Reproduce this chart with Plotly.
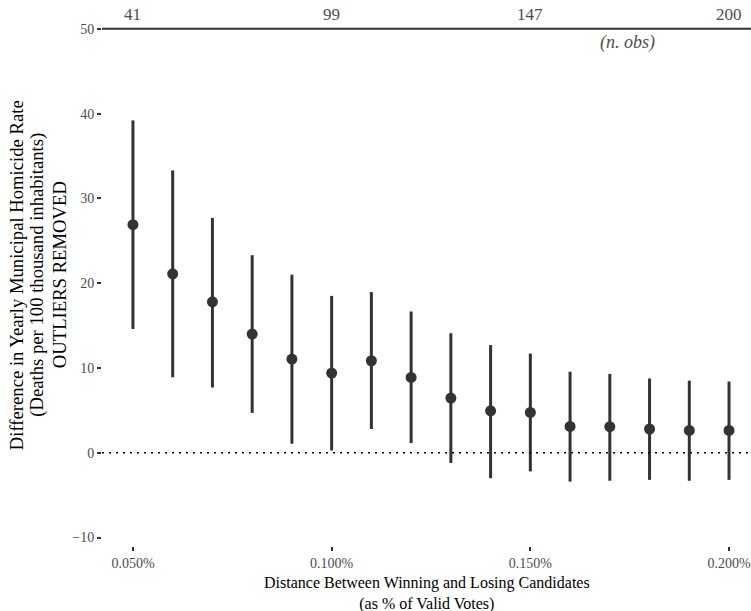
import plotly.graph_objects as go

# Data
margin_pct = [0.05, 0.06, 0.07, 0.08, 0.09, 0.10, 0.11, 0.12, 0.13, 0.14, 0.15, 0.16, 0.17, 0.18, 0.19, 0.20]
estimate = [26.9, 21.1, 17.8, 14.0, 11.05, 9.4, 10.85, 8.88, 6.45, 4.95, 4.75, 3.1, 3.07, 2.8, 2.63, 2.63]
ci_upper = [39.2, 33.3, 27.7, 23.3, 21.0, 18.5, 18.95, 16.66, 14.1, 12.7, 11.7, 9.55, 9.3, 8.76, 8.5, 8.4]
ci_lower = [14.6, 8.9, 7.7, 4.7, 1.06, 0.27, 2.8, 1.14, -1.2, -3.0, -2.2, -3.4, -3.3, -3.2, -3.3, -3.2]

nobs_x = [0.05, 0.10, 0.15, 0.20]
nobs_labels = ["41", "99", "147", "200"]

x_ticks = [0.05, 0.10, 0.15, 0.20]
x_ticklabels = ["0.050%", "0.100%", "0.150%", "0.200%"]
y_ticks = [-10, 0, 10, 20, 30, 40, 50]

y_title_lines = ["Difference in Yearly Municipal Homicide Rate",
                 "(Deaths per 100 thousand inhabitants)",
                 "OUTLIERS REMOVED"]

FONT = "Liberation Serif"
DARK = "#333333"
GREY = "#4d4d4d"

X_RANGE = [0.04221, 0.20553]
Y_RANGE = [-11.0, 53.4]
L_MARGIN = 102
PLOT_W = 751 - L_MARGIN

fig = go.Figure()

fig.add_trace(go.Scatter(
    x=margin_pct, y=estimate, mode="markers",
    marker=dict(size=11, color=DARK),
    error_y=dict(type="data", symmetric=False,
                 array=[u - e for u, e in zip(ci_upper, estimate)],
                 arrayminus=[e - l for e, l in zip(estimate, ci_lower)],
                 thickness=3, width=0, color=DARK),
    showlegend=False, hoverinfo="skip",
))

# zero reference line (dotted)
fig.add_shape(type="line", xref="paper", x0=0, x1=1, yref="y", y0=0, y1=0,
              line=dict(color="black", width=1.5, dash="2px,5px"))
# n. obs axis line at y=50
fig.add_shape(type="line", xref="paper", x0=0, x1=1, yref="y", y0=50, y1=50,
              line=dict(color=DARK, width=2))

for xv, lab in zip(nobs_x, nobs_labels):
    fig.add_annotation(x=xv, y=50, xref="x", yref="y", text=lab, showarrow=False,
                       yanchor="bottom", yshift=3,
                       font=dict(family=FONT, size=17, color=GREY))
fig.add_annotation(x=0.1745, y=50, xref="x", yref="y", text="<i>(n. obs)</i>", showarrow=False,
                   xanchor="center", yanchor="top", yshift=-1,
                   font=dict(family=FONT, size=18, color=GREY))

# axis titles
fig.add_annotation(x=0.5, y=-0.047, xref="paper", yref="paper", yanchor="top",
                   text="Distance Between Winning and Losing Candidates<br>(as % of Valid Votes)",
                   showarrow=False, font=dict(family=FONT, size=16, color="black"))
for px, line in zip([16, 37.5, 59], y_title_lines):
    fig.add_annotation(x=(px - L_MARGIN) / PLOT_W, y=0.496, xref="paper", yref="paper",
                       xanchor="center", yanchor="middle", textangle=-90,
                       text=line, showarrow=False,
                       font=dict(family=FONT, size=18.67, color="black"))

fig.update_xaxes(range=X_RANGE, tickvals=x_ticks, ticktext=x_ticklabels,
                 ticks="outside", ticklen=4, tickwidth=1.5, tickcolor=DARK,
                 showgrid=False, zeroline=False, showline=False,
                 tickfont=dict(family=FONT, size=14, color=GREY))
fig.update_yaxes(range=Y_RANGE, tickvals=y_ticks,
                 ticktext=[("\u2212" + str(-v)) if v < 0 else str(v) for v in y_ticks],
                 ticks="outside", ticklen=4, tickwidth=1.5, tickcolor=DARK,
                 showgrid=False, zeroline=False, showline=False,
                 tickfont=dict(family=FONT, size=14, color=GREY))

fig.update_layout(width=751, height=611, margin=dict(l=L_MARGIN, r=0, t=0, b=65),
                  plot_bgcolor="white", paper_bgcolor="white",
                  font=dict(family=FONT))

fig.write_html("out.html")
